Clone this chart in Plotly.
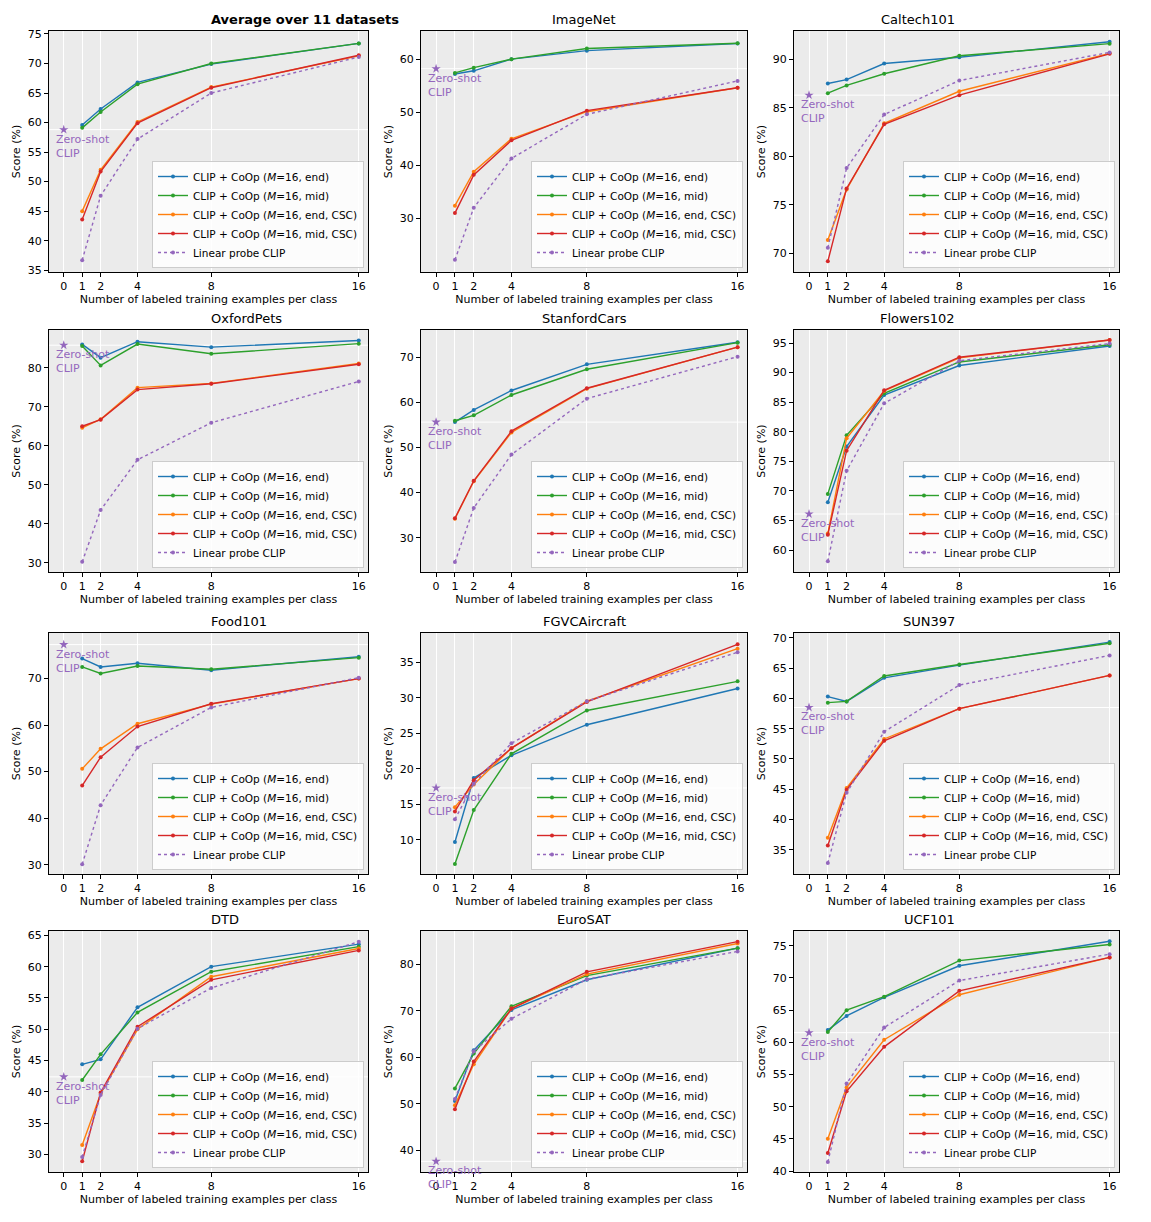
import plotly.graph_objects as go

# ---------------- data ----------------
SHOTS = [1, 2, 4, 8, 16]
X_TICKS = [0, 1, 2, 4, 8, 16]

TITLES = ["Average over 11 datasets", "ImageNet", "Caltech101",
          "OxfordPets", "StanfordCars", "Flowers102",
          "Food101", "FGVCAircraft", "SUN397",
          "DTD", "EuroSAT", "UCF101"]

END = [
    [59.6, 62.3, 66.8, 69.9, 73.4],
    [57.2, 57.8, 60.0, 61.6, 62.95],
    [87.5, 87.9, 89.55, 90.2, 91.8],
    [86.0, 82.6, 86.7, 85.3, 87.0],
    [55.6, 58.3, 62.6, 68.4, 73.3],
    [68.1, 77.5, 86.2, 91.2, 94.5],
    [74.3, 72.5, 73.3, 71.8, 74.7],
    [9.7, 18.7, 21.9, 26.2, 31.3],
    [60.3, 59.5, 63.4, 65.5, 69.3],
    [44.4, 45.2, 53.5, 60.0, 63.6],
    [50.6, 61.5, 70.2, 76.7, 83.5],
    [61.9, 64.1, 67.0, 71.9, 75.7],
]
MID = [
    [59.1, 61.8, 66.5, 70.0, 73.4],
    [57.4, 58.4, 60.0, 62.0, 63.0],
    [86.5, 87.3, 88.5, 90.35, 91.6],
    [85.6, 80.6, 86.1, 83.6, 86.2],
    [55.9, 57.1, 61.6, 67.3, 73.2],
    [69.5, 79.4, 86.5, 91.8, 94.7],
    [72.5, 71.1, 72.7, 72.0, 74.5],
    [6.6, 14.2, 22.1, 28.2, 32.3],
    [59.3, 59.5, 63.7, 65.6, 69.1],
    [41.9, 46.0, 52.7, 59.2, 63.2],
    [53.3, 60.8, 71.0, 77.6, 83.5],
    [61.6, 65.0, 67.1, 72.7, 75.2],
]
END_CSC = [
    [45.0, 52.0, 60.1, 66.0, 71.3],
    [32.4, 38.8, 45.0, 50.1, 54.6],
    [71.4, 76.6, 83.4, 86.7, 90.6],
    [64.6, 66.8, 74.9, 76.0, 81.1],
    [34.2, 42.5, 53.3, 63.0, 72.2],
    [62.8, 78.9, 86.9, 92.5, 95.5],
    [50.6, 54.9, 60.3, 64.5, 70.0],
    [14.6, 17.8, 22.9, 29.5, 36.9],
    [37.0, 45.2, 53.3, 58.3, 63.8],
    [31.5, 39.7, 50.0, 58.4, 62.9],
    [49.7, 58.5, 70.5, 77.9, 84.5],
    [45.0, 53.0, 60.4, 67.4, 73.2],
]
MID_CSC = [
    [43.6, 51.7, 59.9, 65.9, 71.4],
    [31.0, 38.2, 44.7, 50.3, 54.6],
    [69.2, 76.7, 83.3, 86.3, 90.55],
    [65.0, 66.7, 74.4, 75.9, 80.9],
    [34.3, 42.6, 53.6, 63.1, 72.2],
    [62.6, 76.8, 87.0, 92.6, 95.5],
    [47.0, 53.1, 59.7, 64.6, 70.0],
    [14.0, 18.4, 22.9, 29.4, 37.5],
    [35.7, 44.9, 53.0, 58.3, 63.8],
    [28.9, 39.9, 50.4, 57.9, 62.6],
    [48.8, 59.1, 70.5, 78.4, 84.9],
    [42.8, 52.4, 59.3, 68.0, 73.2],
]
LINEAR = [
    [36.7, 47.6, 57.2, 65.0, 71.1],
    [22.2, 32.0, 41.3, 49.6, 55.9],
    [70.6, 78.8, 84.3, 87.8, 90.7],
    [30.2, 43.5, 56.4, 65.9, 76.5],
    [24.6, 36.6, 48.4, 60.8, 70.1],
    [58.1, 73.4, 84.8, 92.0, 94.9],
    [30.1, 42.8, 55.2, 63.8, 70.2],
    [12.9, 17.9, 23.6, 29.5, 36.4],
    [32.8, 44.4, 54.5, 62.2, 67.1],
    [29.6, 39.5, 50.1, 56.6, 64.0],
    [51.0, 61.3, 68.3, 76.8, 82.8],
    [41.4, 53.6, 62.3, 69.6, 73.7],
]
ZERO_SHOT = [58.8, 58.2, 86.3, 85.8, 55.6, 66.1, 77.3, 17.3, 58.5, 42.4, 37.6, 61.5]

Y_TICKS = [
    [35, 40, 45, 50, 55, 60, 65, 70, 75],
    [30, 40, 50, 60],
    [70, 75, 80, 85, 90],
    [30, 40, 50, 60, 70, 80],
    [30, 40, 50, 60, 70],
    [60, 65, 70, 75, 80, 85, 90, 95],
    [30, 40, 50, 60, 70],
    [10, 15, 20, 25, 30, 35],
    [35, 40, 45, 50, 55, 60, 65, 70],
    [30, 35, 40, 45, 50, 55, 60, 65],
    [40, 50, 60, 70, 80],
    [40, 45, 50, 55, 60, 65, 70, 75],
]
Y_RANGES = [
    [34.7, 75.5], [19.9, 65.3], [68.1, 92.9],
    [27.6, 89.7], [22.4, 76.0], [56.3, 97.2],
    [28.0, 79.8], [5.2, 39.1], [31.0, 70.8],
    [27.2, 65.7], [35.3, 87.2], [39.85, 77.3],
]

SERIES = [
    ("CLIP + CoOp (<i>M</i>=16, end)", END, "#1f77b4", "solid"),
    ("CLIP + CoOp (<i>M</i>=16, mid)", MID, "#2ca02c", "solid"),
    ("CLIP + CoOp (<i>M</i>=16, end, CSC)", END_CSC, "#ff7f0e", "solid"),
    ("CLIP + CoOp (<i>M</i>=16, mid, CSC)", MID_CSC, "#d62728", "solid"),
    ("Linear probe CLIP", LINEAR, "#9467bd", "dot"),
]

# ---------------- layout geometry (page pixels) ----------------
PAGE_OFF = 8                      # default body margin of the html page
W, H = 1151 - 2 * PAGE_OFF, 1222 - 2 * PAGE_OFF
COLS = [(49, 368), (421, 747), (794, 1119)]
ROWS = [(31, 272), (330, 572), (633, 874), (931, 1172)]
FONT = "DejaVu Sans"

fig = go.Figure()
layout = dict(
    width=W, height=H, margin=dict(l=0, r=0, t=0, b=0, autoexpand=False),
    paper_bgcolor="white", font=dict(family=FONT, size=11, color="black"),
    showlegend=True,
)
annotations = []
shapes = []

for i in range(12):
    r, c = divmod(i, 3)
    n = i + 1
    sfx = "" if n == 1 else str(n)
    xa, ya = "x" + sfx, "y" + sfx
    leg = "legend" + sfx
    x0, x1 = (v - PAGE_OFF for v in COLS[c])
    y0, y1 = (v - PAGE_OFF for v in ROWS[r])
    dx = [x0 / W, x1 / W]
    dy = [1 - y1 / H, 1 - y0 / H]

    for name, data, color, dash in SERIES:
        fig.add_trace(go.Scatter(
            x=SHOTS, y=data[i], mode="lines+markers", name=name,
            line=dict(color=color, width=1.4, dash=dash),
            marker=dict(color=color, size=4),
            xaxis=xa, yaxis=ya, legend=leg,
        ))
    fig.add_trace(go.Scatter(
        x=[0], y=[ZERO_SHOT[i]], mode="markers", showlegend=False,
        marker=dict(symbol="star", size=7, color="#9467bd"),
        xaxis=xa, yaxis=ya,
    ))

    shapes.append(dict(type="line", xref=xa + " domain", yref=ya,
                       x0=0, x1=1, y0=ZERO_SHOT[i], y1=ZERO_SHOT[i],
                       line=dict(color="white", width=1), layer="below"))
    annotations.append(dict(
        xref=xa, yref=ya, x=0, y=ZERO_SHOT[i], text="Zero-shot<br>CLIP",
        xanchor="left", yanchor="top", xshift=-10, yshift=-1, align="left",
        showarrow=False, font=dict(color="#9467bd", size=11, family=FONT),
    ))
    annotations.append(dict(
        xref="paper", yref="paper", x=(dx[0] + dx[1]) / 2, y=dy[1],
        yanchor="bottom", yshift=2, showarrow=False,
        text=("<b>%s</b>" % TITLES[i]) if i == 0 else TITLES[i],
        font=dict(size=13, family=FONT, color="black"),
    ))

    axis_common = dict(showline=True, linecolor="black", linewidth=1,
                       mirror=True, ticks="outside", ticklen=4,
                       tickcolor="black", tickfont=dict(size=11),
                       zeroline=False, automargin=False)
    layout["xaxis" + sfx] = dict(
        domain=dx, anchor=ya, range=[-0.8, 16.5],
        tickvals=X_TICKS, ticktext=[str(t) for t in X_TICKS],
        showgrid=True, gridcolor="white", gridwidth=1,
        title=dict(text="Number of labeled training examples per class",
                   font=dict(size=11), standoff=2),
        **axis_common)
    layout["yaxis" + sfx] = dict(
        domain=dy, anchor=xa, range=Y_RANGES[i], tickvals=Y_TICKS[i],
        showgrid=False,
        title=dict(text="Score (%)", font=dict(size=11), standoff=4),
        **axis_common)
    layout[leg] = dict(
        x=dx[1] - 4 / W, y=dy[0] + 4 / H, xanchor="right", yanchor="bottom",
        bgcolor="rgba(255,255,255,0.85)", bordercolor="#cccccc", borderwidth=1,
        font=dict(size=10.5, family=FONT), tracegroupgap=0,
        itemwidth=30,
    )

layout["plot_bgcolor"] = "#ebebeb"
layout["annotations"] = annotations
layout["shapes"] = shapes
fig.update_layout(**layout)
fig.write_html("out.html")
